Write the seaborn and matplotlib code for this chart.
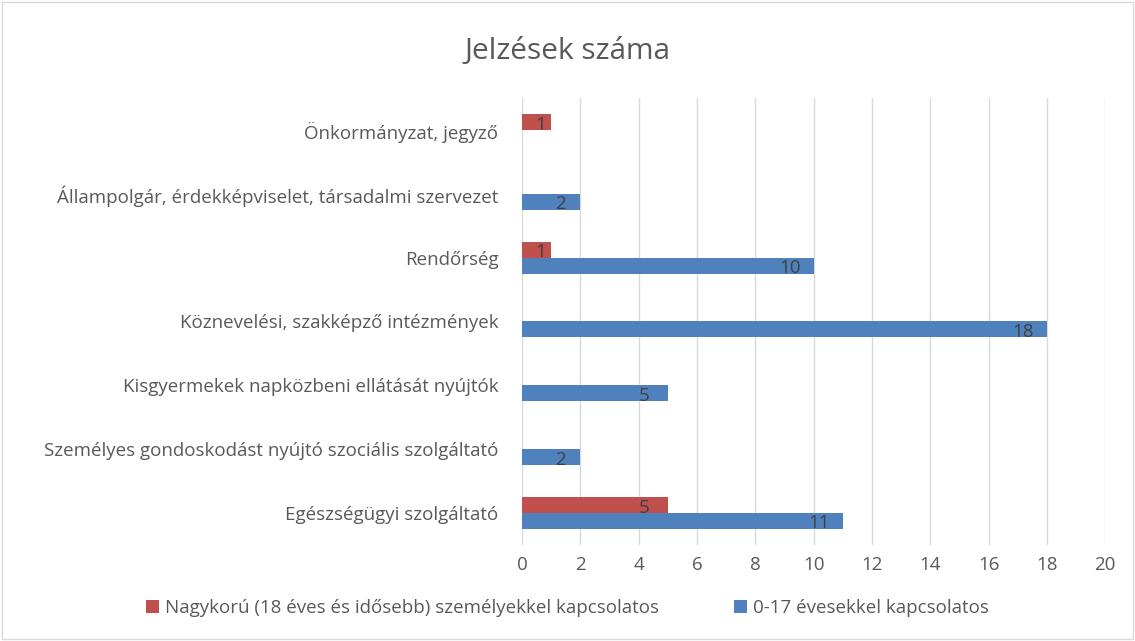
import matplotlib
matplotlib.use("Agg")
import matplotlib.pyplot as plt
import seaborn as sns
import pandas as pd
import numpy as np
from matplotlib.patches import Rectangle

categories = [
    "Önkormányzat, jegyző",
    "Állampolgár, érdekképviselet, társadalmi szervezet",
    "Rendőrség",
    "Köznevelési, szakképző intézmények",
    "Kisgyermekek napközbeni ellátását nyújtók",
    "Személyes gondoskodást nyújtó szociális szolgáltató",
    "Egészségügyi szolgáltató",
]
series_names = [
    "Nagykorú (18 éves és idősebb) személyekkel kapcsolatos",
    "0-17 évesekkel kapcsolatos",
]
adult_values = [1, np.nan, 1, np.nan, np.nan, np.nan, 5]
child_values = [np.nan, 2, 10, 18, 5, 2, 11]
x_ticks = [0, 2, 4, 6, 8, 10, 12, 14, 16, 18, 20]

colors = ["#C0504D", "#4F81BD"]
text_color = "#595959"

sns.set_theme(style="white")
plt.rcParams["font.family"] = ["Open Sans", "DejaVu Sans"]

df = pd.DataFrame({
    "cat": categories * 2,
    "val": adult_values + child_values,
    "series": [series_names[0]] * len(categories) + [series_names[1]] * len(categories),
})

fig = plt.figure(figsize=(11.35, 6.41), dpi=100)
ax = fig.add_axes([0.46, 0.15, 0.5137, 0.697])

sns.barplot(data=df, x="val", y="cat", hue="series", order=categories,
            hue_order=series_names, palette=colors, orient="h",
            width=0.5, dodge=True, saturation=1, ax=ax, legend=True,
            edgecolor="none", errorbar=None)

for cont in ax.containers:
    for bar in cont:
        w = bar.get_width()
        if not np.isfinite(w) or w <= 0:
            continue
        xc = max(w - 0.8, 0.65 * w)
        yc = bar.get_y() + bar.get_height() / 2
        ax.text(xc, yc + 0.04, f"{int(w)}", ha="center", va="center",
                fontsize=13.5, color="#404040")

ax.set_xlim(0, 20)
ax.set_xticks(x_ticks)
ax.set_xticklabels([str(t) for t in x_ticks])
ax.grid(axis="x", color="#D9D9D9", linewidth=1)
ax.grid(axis="y", visible=False)
ax.set_axisbelow(True)
for s in ax.spines.values():
    s.set_visible(False)
ax.tick_params(axis="both", length=0, labelsize=13.5, colors=text_color, pad=8)
ax.tick_params(axis="y", pad=17)
ax.set_xlabel("")
ax.set_ylabel("")

leg = ax.legend_
handles = leg.legend_handles
leg.remove()
fig.legend(handles, series_names, loc="center", bbox_to_anchor=(0.5, 0.052),
           ncol=2, frameon=False, fontsize=13.5, handlelength=0.7, handleheight=0.7,
           handletextpad=0.3, columnspacing=4.0, labelcolor=text_color)

fig.text(0.5, 0.92, "Jelzések száma", ha="center", va="center",
         fontsize=21.5, color=text_color)

fig.patches.append(Rectangle((0.002, 0.003), 0.996, 0.994, transform=fig.transFigure,
                             fill=False, edgecolor="#D9D9D9", linewidth=1))

fig.savefig("out.png", dpi=100)
